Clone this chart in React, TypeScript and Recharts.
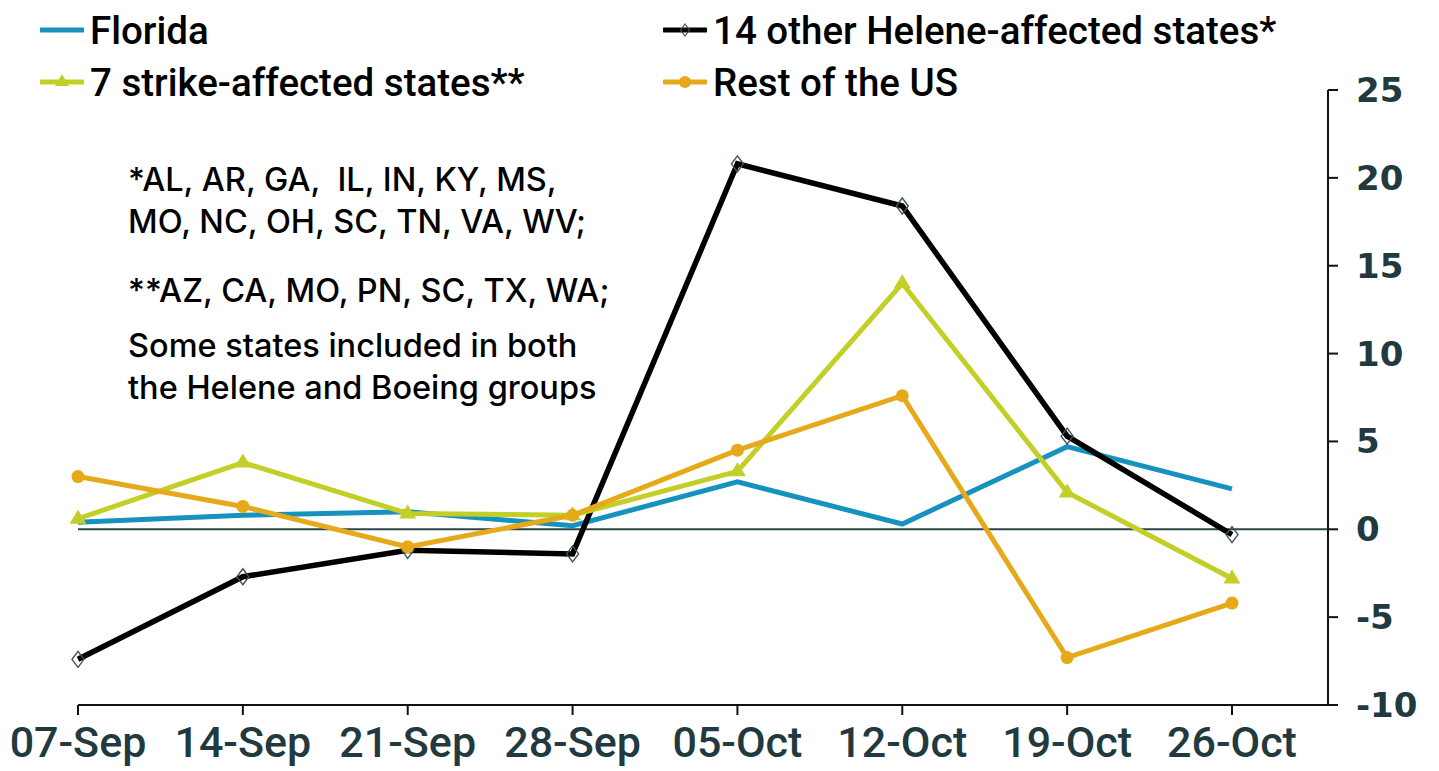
import React from "react"
import { LineChart, Line, XAxis, YAxis, ReferenceLine } from "recharts"

const weeks = ["07-Sep", "14-Sep", "21-Sep", "28-Sep", "05-Oct", "12-Oct", "19-Oct", "26-Oct"]
const florida = [0.4, 0.8, 1.0, 0.2, 2.7, 0.3, 4.7, 2.3]
const helene = [-7.4, -2.7, -1.2, -1.4, 20.8, 18.4, 5.3, -0.3]
const strike = [0.6, 3.8, 0.9, 0.8, 3.3, 14.0, 2.1, -2.8]
const restOfUS = [3.0, 1.3, -1.0, 0.8, 4.5, 7.6, -7.3, -4.2]
const yTicks = [-10, -5, 0, 5, 10, 15, 20, 25]

const notes = [
  "*AL, AR, GA,  IL, IN, KY, MS,",
  "MO, NC, OH, SC, TN, VA, WV;",
  "**AZ, CA, MO, PN, SC, TX, WA;",
  "Some states included in both",
  "the Helene and Boeing groups",
]
const noteBaselines = [191, 233, 302, 357, 399]

const BLUE = "#1592bd"
const GREEN = "#c3ce26"
const ORANGE = "#e6a919"
const INK = "#223a3f"

const data = weeks.map((w, i) => ({
  week: w,
  florida: florida[i],
  helene: helene[i],
  strike: strike[i],
  rest: restOfUS[i],
}))

const diamond = (cx: number, cy: number, s: number) =>
  `M${cx},${cy - s} L${cx + s * 0.75},${cy} L${cx},${cy + s} L${cx - s * 0.75},${cy} Z`
const triangle = (cx: number, cy: number) =>
  `M${cx},${cy - 9} L${cx + 8.5},${cy + 5} L${cx - 8.5},${cy + 5} Z`

const DiamondDot = (props: any) => {
  const { cx, cy, index } = props
  return <path key={`d${index}`} d={diamond(cx, cy, 8)} fill="none" stroke="#3d5555" strokeWidth={1.4} />
}
const TriangleDot = (props: any) => {
  const { cx, cy, index } = props
  return <path key={`t${index}`} d={triangle(cx, cy)} fill={GREEN} />
}

const legendItems = [
  { label: "Florida", color: BLUE, marker: "none", x: 40, y: 30 },
  { label: "14 other Helene-affected states*", color: "#000", marker: "diamond", x: 663, y: 30 },
  { label: "7 strike-affected states**", color: GREEN, marker: "triangle", x: 40, y: 82 },
  { label: "Rest of the US", color: ORANGE, marker: "circle", x: 663, y: 82 },
]

function LegendIcon({ color, marker }: { color: string; marker: string }) {
  return (
    <svg width={44} height={20} style={{ display: "block" }}>
      <line x1={1} y1={10} x2={43} y2={10} stroke={color} strokeWidth={5} strokeLinecap="round" />
      {marker === "diamond" && <path d={diamond(22, 10, 6)} fill="none" stroke="#3d5555" strokeWidth={1.2} />}
      {marker === "triangle" && <path d="M22,2 L29,14 L15,14 Z" fill={color} />}
      {marker === "circle" && <circle cx={22} cy={10} r={6} fill={color} />}
    </svg>
  )
}

export default function App() {
  return (
    <div style={{ position: "absolute", left: 0, top: 0, width: 1439, height: 771, background: "#fff" }}>
      <LineChart width={1439} height={771} data={data} margin={{ top: 90, right: 0, left: 78, bottom: 0 }}>
        <XAxis
          dataKey="week"
          height={66}
          padding={{ left: 0, right: 96 }}
          interval={0}
          axisLine={{ stroke: "#111", strokeWidth: 2 }}
          tickLine={{ stroke: "#111", strokeWidth: 2 }}
          tickSize={10}
          tickMargin={11}
          tick={{ fill: INK, fontSize: 43, fontFamily: "Roboto", fontWeight: 500 }}
        />
        <YAxis
          orientation="right"
          width={111}
          domain={[-10, 25]}
          ticks={yTicks}
          interval={0}
          axisLine={{ stroke: "#111", strokeWidth: 2 }}
          tickLine={{ stroke: "#111", strokeWidth: 2 }}
          tickSize={10}
          tickMargin={18}
          tick={{ fill: INK, fontSize: 34, fontFamily: "DejaVu Sans", fontWeight: 700, textAnchor: "start" }}
        />
        <ReferenceLine y={0} stroke="#2e4448" strokeWidth={2} />
        <Line dataKey="florida" stroke={BLUE} strokeWidth={5} dot={false} isAnimationActive={false} />
        <Line dataKey="helene" stroke="#000" strokeWidth={5.5} dot={DiamondDot} isAnimationActive={false} />
        <Line dataKey="strike" stroke={GREEN} strokeWidth={5} dot={TriangleDot} isAnimationActive={false} />
        <Line
          dataKey="rest"
          stroke={ORANGE}
          strokeWidth={5}
          dot={{ r: 6.5, fill: ORANGE, stroke: "none" }}
          isAnimationActive={false}
        />
      </LineChart>

      {legendItems.map((it) => (
        <div
          key={it.label}
          style={{
            position: "absolute",
            left: it.x,
            top: it.y - 23,
            height: 46,
            display: "flex",
            alignItems: "center",
            gap: 6,
            fontFamily: "Roboto",
            fontWeight: 500,
            fontSize: 38.5,
            color: "#000",
            whiteSpace: "nowrap",
          }}
        >
          <LegendIcon color={it.color} marker={it.marker} />
          <span>{it.label}</span>
        </div>
      ))}

      <svg width={700} height={430} style={{ position: "absolute", left: 0, top: 0 }}>
        {notes.map((n, i) => (
          <text
            key={i}
            x={128}
            y={noteBaselines[i]}
            fontFamily="Inter"
            fontWeight={500}
            fontSize={32.5}
            fill="#000"
            style={{ whiteSpace: "pre" }}
          >
            {n}
          </text>
        ))}
      </svg>
    </div>
  )
}
